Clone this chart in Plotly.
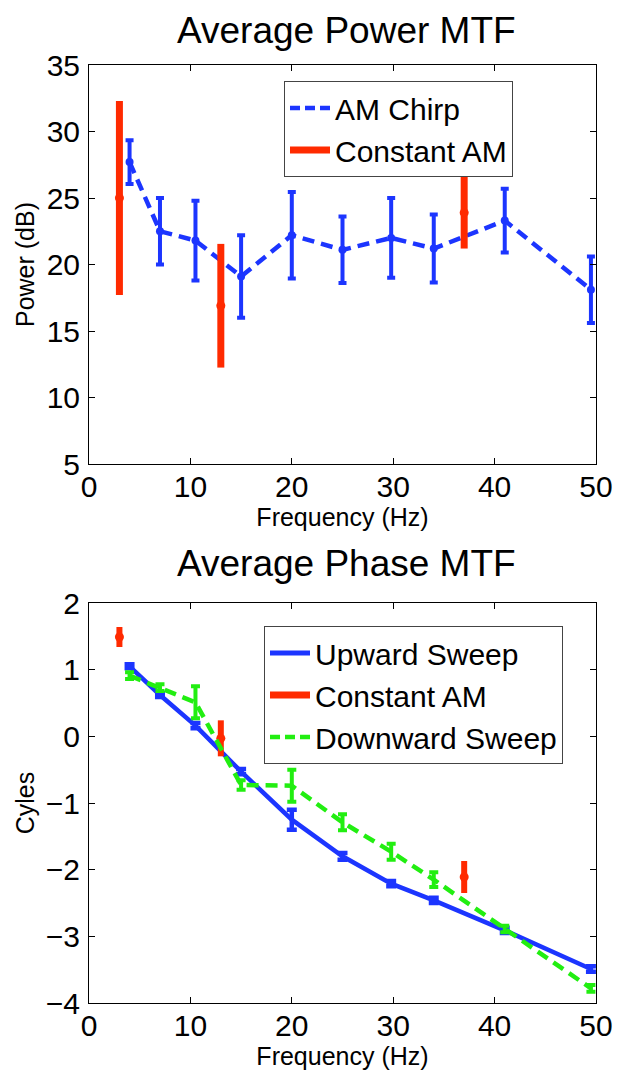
import plotly.graph_objects as go

# ---------------- data ----------------
freq_chirp = [4, 7, 10.5, 15, 20, 25, 29.8, 34, 41, 49.5]
power_chirp = [27.7, 22.5, 21.8, 19.1, 22.2, 21.1, 22.0, 21.2, 23.3, 18.1]
power_chirp_err = [1.65, 2.5, 3.0, 3.1, 3.25, 2.5, 3.0, 2.55, 2.4, 2.5]

freq_const = [3, 13, 37]
power_const = [25.0, 16.9, 23.9]
power_const_err = [7.3, 4.65, 2.7]

phase_up = [1.05, 0.62, 0.16, -0.53, -1.25, -1.80, -2.21, -2.46, -2.91, -3.49]
phase_up_err = [0.03, 0.03, 0.04, 0.04, 0.15, 0.05, 0.04, 0.04, 0.04, 0.04]
phase_down = [0.91, 0.73, 0.51, -0.73, -0.74, -1.29, -1.73, -2.15, -2.89, -3.78]
phase_down_err = [0.05, 0.05, 0.24, 0.07, 0.24, 0.12, 0.12, 0.11, 0.05, 0.05]
phase_const = [1.49, -0.03, -2.11]
phase_const_err = [0.15, 0.27, 0.24]

x_ticks = [0, 10, 20, 30, 40, 50]
power_ticks = [5, 10, 15, 20, 25, 30, 35]
phase_ticks = [-4, -3, -2, -1, 0, 1, 2]

# ---------------- style ----------------
PAGE_OFF = 8  # default body margin of the html page
W, H = 639 - PAGE_OFF, 1076 - PAGE_OFF
BLUE = "#1c35ff"
RED = "#ff2a00"
GREEN = "#22ee11"
FONT = "Liberation Sans, Arial, sans-serif"


def px_x(p):
    return (p - PAGE_OFF) / W


def px_y(p):
    return 1 - (p - PAGE_OFF) / H


fig = go.Figure()

# ---- top: power ----
fig.add_trace(go.Scatter(
    x=freq_chirp, y=power_chirp, mode="lines+markers",
    line=dict(color=BLUE, width=4.5, dash="12px,7px"),
    marker=dict(color=BLUE, size=8),
    error_y=dict(type="data", array=power_chirp_err, color=BLUE, thickness=4, width=4),
    showlegend=False, xaxis="x", yaxis="y",
))
fig.add_trace(go.Scatter(
    x=freq_const, y=power_const, mode="markers",
    marker=dict(color=RED, size=9),
    error_y=dict(type="data", array=power_const_err, color=RED, thickness=7, width=0),
    showlegend=False, xaxis="x", yaxis="y",
))
fig.add_trace(go.Scatter(
    x=[None], y=[None], mode="lines", name="AM Chirp",
    line=dict(color=BLUE, width=4.5, dash="10px,5px"),
    legend="legend", xaxis="x", yaxis="y",
))
fig.add_trace(go.Scatter(
    x=[None], y=[None], mode="lines", name="Constant AM",
    line=dict(color=RED, width=7),
    legend="legend", xaxis="x", yaxis="y",
))

# ---- bottom: phase ----
fig.add_trace(go.Scatter(
    x=freq_chirp, y=phase_up, mode="lines",
    line=dict(color=BLUE, width=4.5),
    error_y=dict(type="data", array=phase_up_err, color=BLUE, thickness=4.5, width=5),
    showlegend=False, xaxis="x2", yaxis="y2",
))
fig.add_trace(go.Scatter(
    x=freq_const, y=phase_const, mode="markers",
    marker=dict(color=RED, size=9),
    error_y=dict(type="data", array=phase_const_err, color=RED, thickness=6, width=0),
    showlegend=False, xaxis="x2", yaxis="y2",
))
fig.add_trace(go.Scatter(
    x=freq_chirp, y=phase_down, mode="lines",
    line=dict(color=GREEN, width=4.5, dash="12px,7px"),
    error_y=dict(type="data", array=phase_down_err, color=GREEN, thickness=4, width=4.5),
    showlegend=False, xaxis="x2", yaxis="y2",
))
fig.add_trace(go.Scatter(
    x=[None], y=[None], mode="lines", name="Upward Sweep",
    line=dict(color=BLUE, width=5),
    legend="legend2", xaxis="x2", yaxis="y2",
))
fig.add_trace(go.Scatter(
    x=[None], y=[None], mode="lines", name="Constant AM",
    line=dict(color=RED, width=7),
    legend="legend2", xaxis="x2", yaxis="y2",
))
fig.add_trace(go.Scatter(
    x=[None], y=[None], mode="lines", name="Downward Sweep",
    line=dict(color=GREEN, width=4.5, dash="10px,5px"),
    legend="legend2", xaxis="x2", yaxis="y2",
))

axis_common = dict(
    showline=True, linecolor="black", linewidth=1, mirror="ticks",
    ticks="inside", ticklen=6, tickcolor="black", tickwidth=1,
    showgrid=False, zeroline=False, automargin=False,
    tickfont=dict(family=FONT, size=30, color="black"),
)

xdom = [px_x(89), px_x(596)]
top_dom = [px_y(464), px_y(65)]
bot_dom = [px_y(1003), px_y(603)]

fig.update_layout(
    width=W, height=H,
    margin=dict(l=0, r=0, t=0, b=0),
    paper_bgcolor="white", plot_bgcolor="white",
    template="none",
    font=dict(family=FONT, color="black"),
    xaxis=dict(axis_common, domain=xdom, range=[0, 50], tickvals=x_ticks,
               anchor="y", ticklabelstandoff=-4,
               title=dict(text="Frequency (Hz)", font=dict(size=25), standoff=6)),
    yaxis=dict(axis_common, domain=top_dom, range=[5, 35], tickvals=power_ticks,
               anchor="x", ticklabelstandoff=2,
               title=dict(text="Power (dB)", font=dict(size=25), standoff=4)),
    xaxis2=dict(axis_common, domain=xdom, range=[0, 50], tickvals=x_ticks,
                anchor="y2", ticklabelstandoff=-4,
                title=dict(text="Frequency (Hz)", font=dict(size=25), standoff=6)),
    yaxis2=dict(axis_common, domain=bot_dom, range=[-4, 2], tickvals=phase_ticks,
                anchor="x2", ticklabelstandoff=2,
                title=dict(text="Cyles", font=dict(size=25), standoff=4)),
    legend=dict(
        x=px_x(284), y=px_y(81), xanchor="left", yanchor="top",
        bordercolor="#444444", borderwidth=1, bgcolor="white",
        font=dict(family=FONT, size=30, color="black"),
        itemwidth=40, tracegroupgap=0,
    ),
    legend2=dict(
        x=px_x(264), y=px_y(626), xanchor="left", yanchor="top",
        bordercolor="#444444", borderwidth=1, bgcolor="white",
        font=dict(family=FONT, size=30, color="black"),
        itemwidth=40, tracegroupgap=0,
    ),
    annotations=[
        dict(text="Average Power MTF", x=px_x(346), y=1, xref="paper", yref="paper",
             xanchor="center", yanchor="top", showarrow=False,
             font=dict(family=FONT, size=37, color="black")),
        dict(text="Average Phase MTF", x=px_x(346), y=px_y(563), xref="paper", yref="paper",
             xanchor="center", yanchor="middle", showarrow=False,
             font=dict(family=FONT, size=37, color="black")),
    ],
)

fig.write_html("out.html")
